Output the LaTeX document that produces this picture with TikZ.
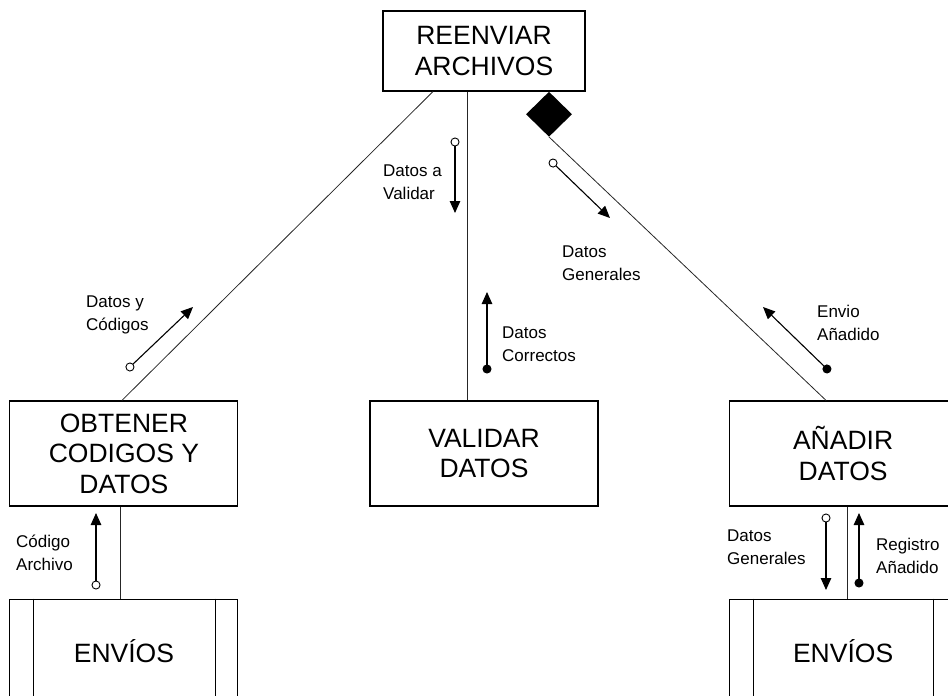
\documentclass[tikz,border=0pt]{standalone}
\usepackage{fontspec}
\setmainfont{Liberation Sans}
\usetikzlibrary{positioning,arrows.meta,shapes.geometric}

\begin{document}
\begin{tikzpicture}[
x=1pt,y=-1pt,
node distance=92pt,
proc/.style={
  rectangle,
  draw,
  line width=1.1pt,
  minimum width=228pt,
  minimum height=105pt,
  inner sep=0pt,
  align=center,
  font=\fontsize{26.5}{30.5}\selectfont
},
link/.style={line width=0.8pt,draw=black!85},
flowo/.style={{Circle[open,length=9pt,width=9pt,line width=0.9pt]}-{Triangle[length=12pt,width=10.5pt]},line width=1.1pt},
flowf/.style={{Circle[length=9pt,width=9pt]}-{Triangle[length=12pt,width=10.5pt]},line width=1.1pt},
lbl/.style={anchor=north west,inner sep=0pt,align=left,font=\fontsize{17}{22.5}\selectfont}
]
\useasboundingbox (0,0) rectangle (948,696);
\clip (0,0) rectangle (948,696);
\node[proc,minimum width=202pt,minimum height=80pt] (reenviar) at (484,51) {REENVIAR\\ARCHIVOS};
\node[proc] (validar) at (484,453.5) {VALIDAR\\DATOS};
\node[proc,left=131pt of validar] (obtener) {OBTENER\\CODIGOS Y\\DATOS};
\node[proc,right=130pt of validar] (anadir) {AÑADIR\\DATOS};
\node[proc,below=of obtener] (envios1) {ENVÍOS};
\node[proc,below=of anadir] (envios2) {ENVÍOS};
\draw[line width=1.1pt] ([xshift=24pt]envios1.north west) -- ([xshift=24pt]envios1.south west);
\draw[line width=1.1pt] ([xshift=-23pt]envios1.north east) -- ([xshift=-23pt]envios1.south east);
\draw[line width=1.1pt] ([xshift=25pt]envios2.north west) -- ([xshift=25pt]envios2.south west);
\draw[line width=1.1pt] ([xshift=-24pt]envios2.north east) -- ([xshift=-24pt]envios2.south east);
\node[diamond,fill,inner sep=0pt,minimum width=46pt,minimum height=45pt,anchor=north] (rombo) at ([xshift=65pt]reenviar.south) {};
\draw[link] ([xshift=-51pt]reenviar.south) -- ([xshift=-2pt]obtener.north);
\draw[link] ([xshift=-17pt]reenviar.south) -- ([xshift=-17pt]validar.north);
\draw[link] (rombo.south) -- ([xshift=-17pt]anadir.north);
\draw[link] ([xshift=-4pt]obtener.south) -- ([xshift=-4pt]envios1.north);
\draw[link] ([xshift=4pt]anadir.south) -- ([xshift=4pt]envios2.north);
\coordinate (dy1) at (126.7,370.1);
\coordinate (dy2) at (193,307);
\coordinate (dv1) at (455,137.5);
\coordinate (dv2) at (455,213);
\coordinate (dg1) at (549.8,159.9);
\coordinate (dg2) at (610,218);
\coordinate (dc1) at (487,373.5);
\coordinate (dc2) at (487,292);
\coordinate (ea1) at (830.2,372.1);
\coordinate (ea2) at (763,307);
\coordinate (ca1) at (96,589.5);
\coordinate (ca2) at (96,513);
\coordinate (gb1) at (826,513.5);
\coordinate (gb2) at (826,590);
\coordinate (ra1) at (859,587.5);
\coordinate (ra2) at (859,513);
\draw[flowo] (dy1) -- (dy2);
\draw[flowo] (dv1) -- (dv2);
\draw[flowo] (dg1) -- (dg2);
\draw[flowf] (dc1) -- (dc2);
\draw[flowf] (ea1) -- (ea2);
\draw[flowo] (ca1) -- (ca2);
\draw[flowo] (gb1) -- (gb2);
\draw[flowf] (ra1) -- (ra2);
\node[lbl] (ldy) at (86,296) {Datos y\\Códigos};
\node[lbl] (ldv) at (383,165) {Datos a\\Validar};
\node[lbl] (ldg) at (562,246) {Datos\\Generales};
\node[lbl] (ldc) at (502,327) {Datos\\Correctos};
\node[lbl] (lea) at (817,305) {Envio\\Añadido};
\node[lbl] (lca) at (16,535) {Código\\Archivo};
\node[lbl] (lgb) at (727,530) {Datos\\Generales};
\node[lbl] (lra) at (876,538) {Registro\\Añadido};
\end{tikzpicture}
\end{document}
